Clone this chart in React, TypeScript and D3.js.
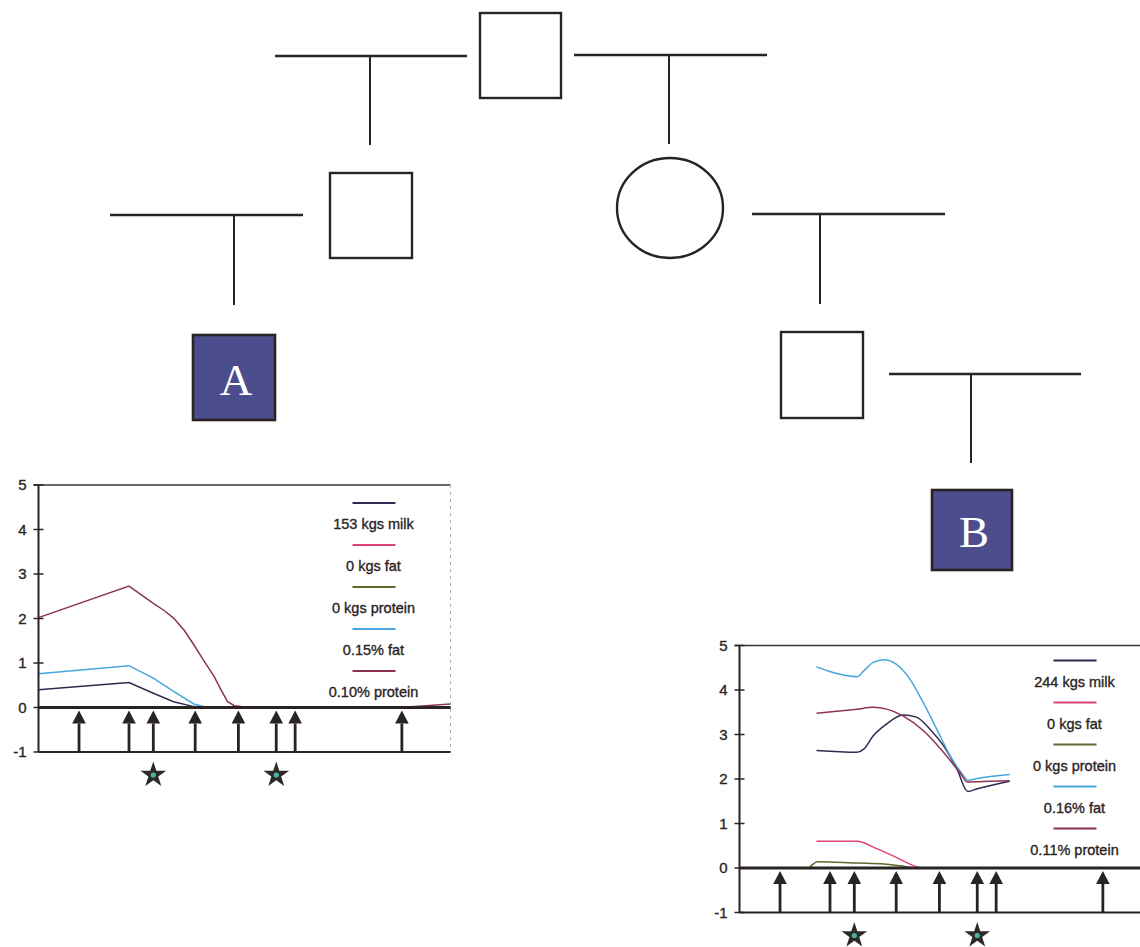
import React from "react";
import * as d3 from "d3";

type Pt = [number, number];

// test days (arrows) and flagged days (stars), shared by both cows
const testDays = [30, 67, 85, 116, 148, 176, 190, 269];
const starDays = [85, 176];
const yTicks = [-1, 0, 1, 2, 3, 4, 5];

const seriesColors = ["#2e2b50", "#e0407c", "#5b6a2c", "#46a6de", "#8c3352"];

// cow A: [day in milk, value]
const aMilk: Pt[] = [[0, 0.4], [67, 0.56], [85, 0.32], [100, 0.13], [115, 0.02], [125, 0], [305, 0]];
const aFatKg: Pt[] = [[0, 0], [305, 0]];
const aProteinKg: Pt[] = [[0, 0], [305, 0]];
const aFatPct: Pt[] = [[0, 0.76], [67, 0.94], [85, 0.66], [100, 0.36], [115, 0.08], [125, 0], [305, 0]];
const aProteinPct: Pt[] = [
  [0, 2.02], [67, 2.73], [85, 2.34], [93, 2.18], [100, 2.01], [108, 1.73], [115, 1.41],
  [122, 1.07], [130, 0.7], [135, 0.4], [140, 0.13], [145, 0.04], [150, 0.02], [268, 0], [305, 0.08],
];
const aLegend = ["153 kgs milk", "0 kgs fat", "0 kgs protein", "0.15% fat", "0.10% protein"];

// cow B
const bMilk: Pt[] = [
  [57, 2.64], [87, 2.6], [92, 2.67], [99, 2.97], [109, 3.24], [121, 3.44], [131, 3.39],
  [141, 3.12], [151, 2.75], [161, 2.22], [169, 1.72], [176, 1.78], [200, 1.95],
];
const bFatKg: Pt[] = [[57, 0.6], [87, 0.6], [102, 0.43], [116, 0.24], [131, 0.03], [136, 0], [305, 0]];
const bProteinKg: Pt[] = [[52, 0.02], [58, 0.14], [87, 0.11], [107, 0.09], [119, 0.05], [131, 0], [305, 0]];
const bFatPct: Pt[] = [
  [57, 4.52], [87, 4.3], [92, 4.43], [99, 4.62], [107, 4.68], [116, 4.58], [126, 4.25],
  [136, 3.72], [146, 3.12], [156, 2.52], [166, 2.07], [169, 1.97], [176, 2.01], [200, 2.1],
];
const bProteinPct: Pt[] = [
  [57, 3.48], [87, 3.57], [99, 3.61], [109, 3.57], [121, 3.42], [136, 3.09], [151, 2.6],
  [163, 2.15], [169, 1.93], [176, 1.94], [200, 1.96],
];
const bLegend = ["244 kgs milk", "0 kgs fat", "0 kgs protein", "0.16% fat", "0.11% protein"];

const ink = "#2a2324";
const font = "'Liberation Sans', Arial, sans-serif";

const Chart = ({ left, top, series, legend, legendTop, curve, rightBorder }: any) => {
  const w = 412, unit = 44.5;
  const x = d3.scaleLinear().domain([0, 305]).range([left, left + w]);
  const y = d3.scaleLinear().domain([-1, 5]).range([top + 6 * unit, top]);
  const line = d3.line<Pt>().x(d => x(d[0])).y(d => y(d[1])).curve(curve);
  const star = d3.symbol().type(d3.symbolStar).size(205)();
  const legendX = left + 335;

  return (
    <g>
      {series.map((s: Pt[], i: number) => (
        <path key={i} d={line(s) || ""} fill="none" stroke={seriesColors[i]} strokeWidth={1.5} />
      ))}
      <line x1={left - 5} x2={left + w} y1={y(5)} y2={y(5)} stroke="#3a3434" strokeWidth={1.5} />
      {rightBorder && (
        <line x1={left + w} x2={left + w} y1={y(5)} y2={y(-1)} stroke="#aaa" strokeWidth={1} strokeDasharray="3 4" />
      )}
      <line x1={left} x2={left + w} y1={y(0)} y2={y(0)} stroke={ink} strokeWidth={3} />
      <line x1={left} x2={left + w} y1={y(-1)} y2={y(-1)} stroke={ink} strokeWidth={2} />
      <line x1={left} x2={left} y1={y(5)} y2={y(-1)} stroke={ink} strokeWidth={2} />
      {yTicks.map(t => (
        <g key={t}>
          <line x1={left - 5} x2={left + 5} y1={y(t)} y2={y(t)} stroke={ink} strokeWidth={1.5} />
          <text x={left - 12} y={y(t)} dy="0.36em" textAnchor="end" fontFamily={font} fontSize={15}
            fill={ink} stroke={ink} strokeWidth={0.35}>
            {t}
          </text>
        </g>
      ))}
      {testDays.map((d, i) => {
        const cx = x(d), tip = y(0) + 3, base = y(0) + 16;
        return (
          <g key={i}>
            <line x1={cx} x2={cx} y1={base} y2={y(-1)} stroke={ink} strokeWidth={2.8} />
            <path d={`M${cx},${tip}L${cx + 6.8},${base}L${cx - 6.8},${base}Z`} fill={ink} />
          </g>
        );
      })}
      {starDays.map((d, i) => (
        <g key={i} transform={`translate(${x(d)},${y(-1) + 23})`}>
          <path d={star || ""} fill="#2b2a24" />
          <circle r={2.6} fill="#4fb2aa" />
        </g>
      ))}
      {legend.map((lab: string, i: number) => {
        const ly = top + legendTop + i * 42;
        return (
          <g key={lab}>
            <line x1={legendX - 21} x2={legendX + 22} y1={ly} y2={ly} stroke={seriesColors[i]} strokeWidth={2} />
            <text x={legendX} y={ly + 21} dy="0.36em" textAnchor="middle" fontFamily={font} fontSize={14.5}
              fill={ink} stroke={ink} strokeWidth={0.35}>
              {lab}
            </text>
          </g>
        );
      })}
    </g>
  );
};

// pedigree layout
const squares = [
  { x: 480, y: 13, w: 81, h: 85 },
  { x: 330, y: 173, w: 82, h: 85 },
  { x: 781, y: 332, w: 82, h: 86 },
];
const tees = [
  { x1: 275, x2: 467, y: 56, vx: 370, vy: 145 },
  { x1: 574, x2: 767, y: 55, vx: 669, vy: 144 },
  { x1: 110, x2: 303, y: 215, vx: 234, vy: 305 },
  { x1: 752, x2: 945, y: 214, vx: 820, vy: 304 },
  { x1: 889, x2: 1081, y: 374, vx: 971, vy: 463 },
];
const cows = [
  { x: 193, y: 335, w: 82, h: 85, label: "A" },
  { x: 932, y: 490, w: 80, h: 80, label: "B" },
];

export default function App() {
  return (
    <svg width={1140} height={947} style={{ position: "absolute", left: 0, top: 0, display: "block", background: "#fff" }}>
      {tees.map((t, i) => (
        <g key={i} stroke={ink}>
          <line x1={t.x1} x2={t.x2} y1={t.y} y2={t.y} strokeWidth={2.6} />
          <line x1={t.vx} x2={t.vx} y1={t.y} y2={t.vy} strokeWidth={2} />
        </g>
      ))}
      {squares.map((s, i) => (
        <rect key={i} x={s.x} y={s.y} width={s.w} height={s.h} fill="#fff" stroke={ink} strokeWidth={2.4} />
      ))}
      <ellipse cx={670} cy={208} rx={53} ry={50} fill="#fff" stroke={ink} strokeWidth={2.4} />
      {cows.map(c => (
        <g key={c.label}>
          <rect x={c.x} y={c.y} width={c.w} height={c.h} fill="#4b4d8c" stroke={ink} strokeWidth={2.6} />
          <text
            x={c.x + c.w / 2 + 2}
            y={c.y + c.h / 2 + 17}
            textAnchor="middle"
            fontFamily="'Liberation Serif', 'Times New Roman', serif"
            fontSize={45}
            fill="#fff"
          >
            {c.label}
          </text>
        </g>
      ))}
      <Chart
        left={38.5}
        top={485}
        series={[aMilk, aFatKg, aProteinKg, aFatPct, aProteinPct]}
        legend={aLegend}
        legendTop={18}
        curve={d3.curveLinear}
        rightBorder
      />
      <Chart
        left={739.5}
        top={645.5}
        series={[bMilk, bFatKg, bProteinKg, bFatPct, bProteinPct]}
        legend={bLegend}
        legendTop={15}
        curve={d3.curveMonotoneX}
        rightBorder={false}
      />
    </svg>
  );
}
